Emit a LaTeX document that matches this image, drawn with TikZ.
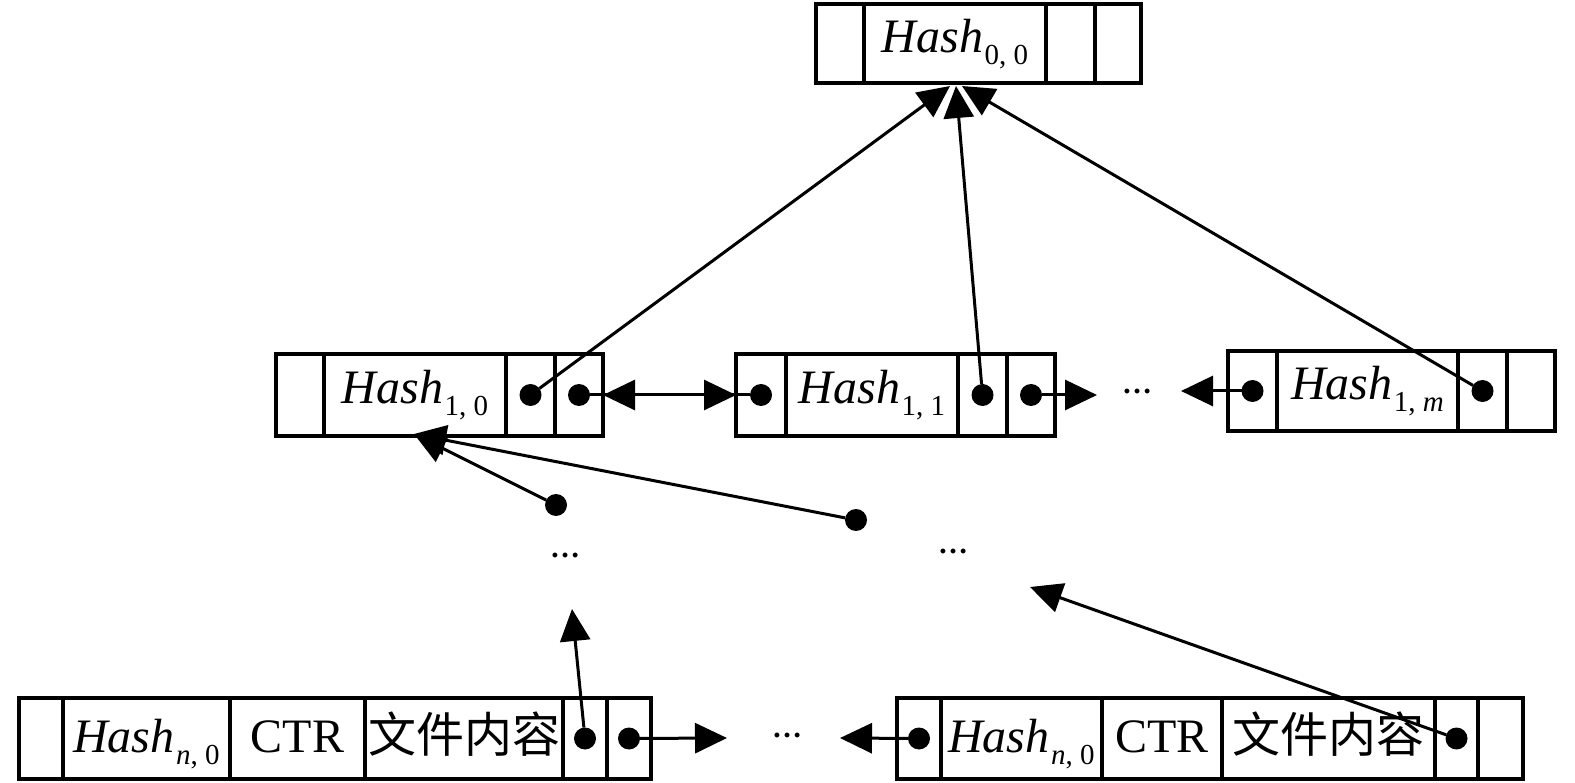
\documentclass[tikz,border=0pt]{standalone}
\usepackage{fontspec}
\setmainfont{Liberation Serif}
\newfontfamily\cjk{Noto Sans CJK SC}
\usetikzlibrary{arrows.meta}
\newcommand\hsub[1]{\kern1.5pt\raisebox{-12pt}{\fontsize{29}{29}\selectfont #1}}
\newcommand\HH[1]{\textit{Hash}\hsub{#1}}
\begin{document}
\begin{tikzpicture}[x=1pt,y=-1pt,
  cell/.style={draw, line width=3.5pt, inner sep=0pt, outer sep=0pt, anchor=north west, font=\fontsize{48}{50}\selectfont},
  midcell/.style={cell, minimum height=82pt, text height=35pt, text depth=17pt},
  topcell/.style={cell, minimum height=79pt, text height=35pt, text depth=16pt},
  rcell/.style={cell, minimum height=80pt, text height=35pt, text depth=17pt},
  botcell/.style={cell, minimum height=81pt, text height=40pt, text depth=13pt},
  dot/.style={circle, fill, inner sep=0pt, outer sep=0pt, minimum size=22pt},
  conn/.style={line width=3pt},
  arr/.style={conn, -{Triangle[length=32pt,width=30pt]}},
  dbl/.style={conn, {Triangle[length=32pt,width=30pt]}-{Triangle[length=32pt,width=30pt]}},
  dots/.style={font=\fontsize{30}{30}\selectfont\bfseries, inner sep=0pt, anchor=base}]
\useasboundingbox (0,0) rectangle (1575,783);
% top box
\node[topcell, minimum width=48pt] (T1) at (816,4) {};
\node[topcell, minimum width=182pt] (T2) at (864,4) {\HH{0, 0}};
\node[topcell, minimum width=49pt] (T3) at (1046,4) {};
\node[topcell, minimum width=46pt] (T4) at (1095,4) {};
% middle left
\node[midcell, minimum width=48pt] (A1) at (276,354) {};
\node[midcell, minimum width=182pt] (A2) at (324,354) {\HH{1, 0}};
\node[midcell, minimum width=49pt] (A3) at (506,354) {};
\node[midcell, minimum width=48pt] (A4) at (555,354) {};
% middle center
\node[midcell, minimum width=50pt] (B1) at (736,354) {};
\node[midcell, minimum width=172pt] (B2) at (786,354) {\HH{1, 1}};
\node[midcell, minimum width=49pt] (B3) at (958,354) {};
\node[midcell, minimum width=48pt] (B4) at (1007,354) {};
% middle right
\node[rcell, minimum width=49pt] (C1) at (1228,351) {};
\node[rcell, minimum width=181pt] (C2) at (1277,351) {\HH{1, \textit{m}}};
\node[rcell, minimum width=49pt] (C3) at (1458,351) {};
\node[rcell, minimum width=48pt] (C4) at (1507,351) {};
% bottom left
\node[botcell, minimum width=44pt] (D1) at (19,698) {};
\node[botcell, minimum width=167pt] (D2) at (63,698) {\HH{\textit{n}, 0}};
\node[botcell, minimum width=135pt] (D3) at (230,698) {CTR};
\node[botcell, minimum width=198pt] (D4) at (365,698) {\cjk 文件内容};
\node[botcell, minimum width=44pt] (D5) at (563,698) {};
\node[botcell, minimum width=44pt] (D6) at (607,698) {};
% bottom right
\node[botcell, minimum width=44pt] (E1) at (897,698) {};
\node[botcell, minimum width=161pt] (E2) at (941,698) {\HH{\textit{n}, 0}};
\node[botcell, minimum width=120pt] (E3) at (1102,698) {CTR};
\node[botcell, minimum width=213pt] (E4) at (1222,698) {\cjk 文件内容};
\node[botcell, minimum width=43pt] (E5) at (1435,698) {};
\node[botcell, minimum width=45pt] (E6) at (1478,698) {};
% dots
\node[dot] (dA3) at (A3) {};
\node[dot] (dA4) at (A4) {};
\node[dot] (dB1) at (B1) {};
\node[dot] (dB3) at (B3) {};
\node[dot] (dB4) at (B4) {};
\node[dot] (dC1) at (C1) {};
\node[dot] (dC3) at (C3) {};
\node[dot] (dD5) at (D5) {};
\node[dot] (dD6) at (D6) {};
\node[dot] (dE1) at (E1) {};
\node[dot] (dE5) at (E5) {};
\node[dot] (m1) at (556,505) {};
\node[dot] (m2) at (856,520) {};
% ellipses
\node[dots] (e1) at (1137,394) {…};
\node[dots] (e2) at (787,737) {…};
\node[dots] (e3) at (565,557) {…};
\node[dots] (e4) at (953,553) {…};
% free ends
\coordinate (t1) at (950,86);
\coordinate (t2) at (956,86);
\coordinate (t3) at (962,86);
\coordinate (tB) at (1097,395);
\coordinate (tC) at (1181,391);
\coordinate (tD) at (727,738);
\coordinate (tE) at (840,738);
\coordinate (tD5) at (572,609);
\coordinate (tE5) at (1030,587);
\coordinate (tA) at (414,434);
% connectors
\draw[arr] (dA3) -- (t1);
\draw[arr] (dB3) -- (t2);
\draw[arr] (dC3) -- (t3);
\draw[conn] (dA4) -- (dB1);
\draw[dbl] (A4.east) -- (B1.west);
\draw[arr] (dB4) -- (tB);
\draw[arr] (dC1) -- (tC);
\draw[arr] (dD6) -- (tD);
\draw[arr] (dE1) -- (tE);
\draw[arr] (dD5) -- (tD5);
\draw[arr] (dE5) -- (tE5);
\draw[arr] (m1) -- (tA);
\draw[arr] (m2) -- (tA);
\end{tikzpicture}
\end{document}
